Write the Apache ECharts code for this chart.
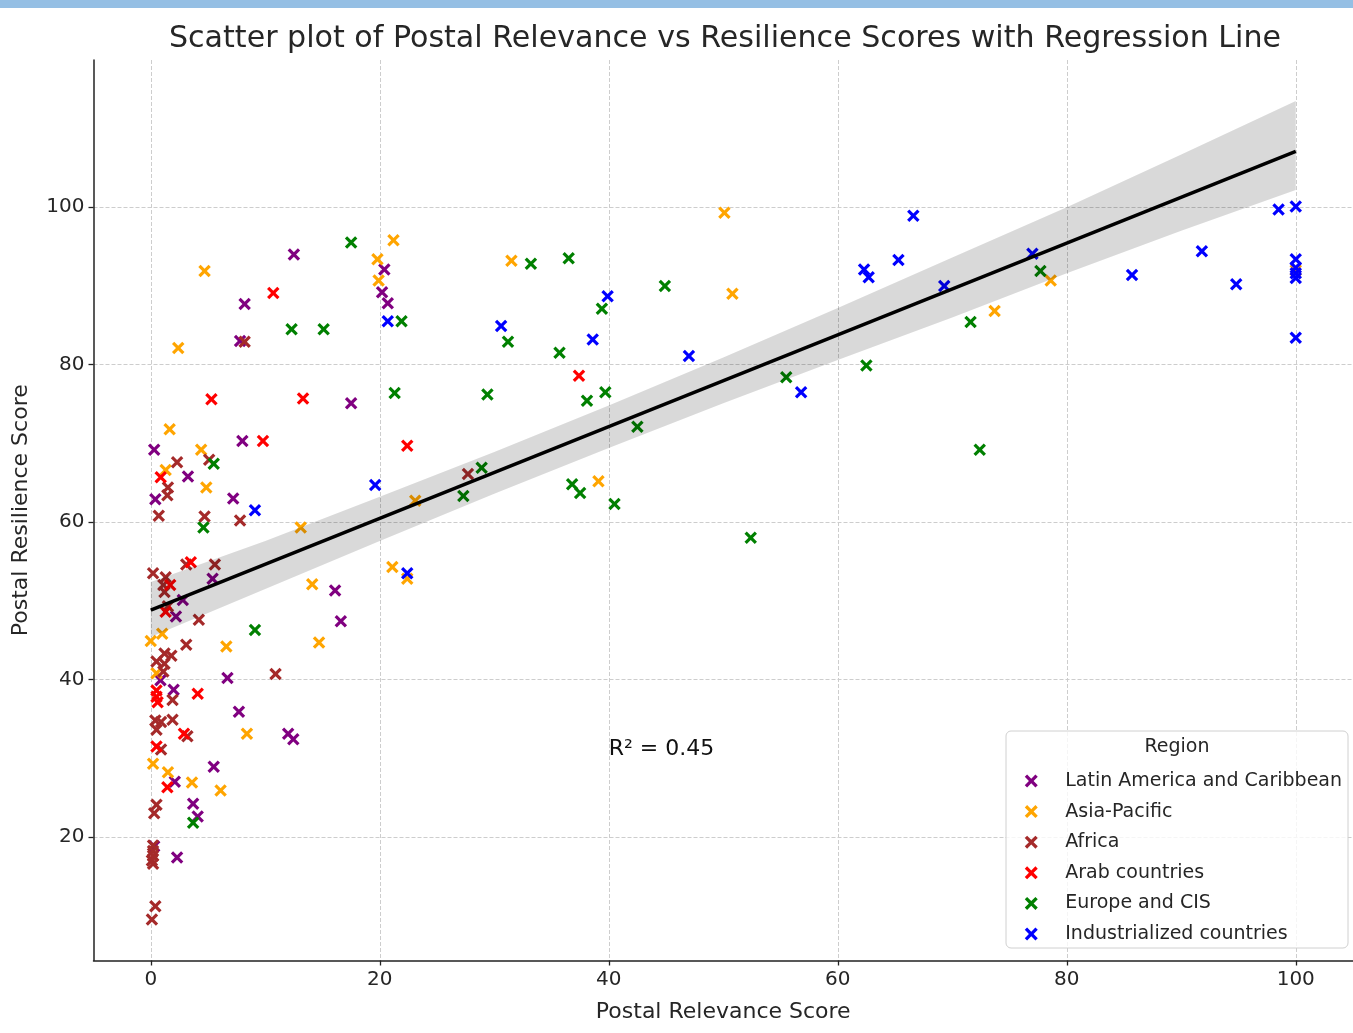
<!DOCTYPE html>
<html>
<head>
<meta charset="utf-8">
<script src="https://cdn.jsdelivr.net/npm/echarts@6/dist/echarts.min.js"></script>
<style>
  html, body { margin: 0; padding: 0; background: #ffffff; }
  #topbar { position: absolute; left: 0; top: 0; width: 1353px; height: 8px; background: #95bfe4; }
  #chart { position: absolute; left: 0; top: 0; width: 1353px; height: 1033px; }
</style>
</head>
<body>
<div id="chart"></div>
<div id="topbar"></div>
<script>
// Postal relevance (x) vs postal resilience (y) per country, grouped by region
const latinAmerica = [
  [12.5, 94.0], [20.4, 92.1], [20.2, 89.2], [20.7, 87.8], [8.2, 87.7], [7.8, 83.0],
  [17.5, 75.1], [0.3, 69.2], [8.0, 70.3], [3.25, 65.8], [0.4, 62.9], [7.2, 63.0],
  [5.4, 52.8], [2.8, 50.1], [2.2, 48.0], [16.1, 51.3], [16.6, 47.4], [6.7, 40.2],
  [0.85, 39.9], [2.0, 38.7], [7.7, 35.9], [12.0, 33.1], [12.45, 32.4], [5.5, 28.9],
  [2.1, 27.0], [3.7, 24.2], [4.1, 22.6], [0.3, 18.8], [2.3, 17.4]
];
const asiaPacific = [
  [4.7, 91.9], [21.2, 95.8], [19.8, 93.4], [19.9, 90.7], [2.4, 82.1], [31.5, 93.2],
  [50.1, 99.3], [50.8, 89.0], [73.7, 86.8], [78.6, 90.7], [100, 92.0], [39.1, 65.2],
  [23.1, 62.7], [13.1, 59.3], [1.65, 71.8], [4.4, 69.2], [1.3, 66.6], [4.85, 64.4],
  [14.1, 52.1], [14.7, 44.7], [21.1, 54.3], [22.4, 52.8], [1.0, 45.8], [0.0, 44.9],
  [6.6, 44.2], [0.5, 40.8], [8.4, 33.1], [0.2, 29.3], [1.5, 28.2], [3.6, 26.9], [6.1, 25.9]
];
const africa = [
  [8.2, 82.9], [2.3, 67.6], [5.1, 67.9], [1.5, 64.4], [1.45, 63.4], [0.7, 60.8],
  [4.7, 60.7], [7.8, 60.2], [3.1, 54.6], [5.6, 54.6], [0.2, 53.5], [1.3, 53.0],
  [1.1, 52.0], [1.2, 51.1], [1.5, 49.3], [4.2, 47.6], [3.1, 44.4], [27.7, 66.1],
  [10.9, 40.7], [1.2, 43.3], [1.8, 43.0], [0.5, 42.3], [1.2, 42.0], [1.1, 41.0],
  [1.9, 37.4], [0.4, 34.8], [0.9, 34.6], [1.9, 34.9], [0.5, 33.6], [3.2, 32.8],
  [0.9, 31.1], [0.5, 24.1], [0.3, 23.0], [0.2, 18.9], [0.2, 18.2], [0.2, 17.6],
  [0.1, 17.0], [0.2, 16.6], [0.4, 11.2], [0.1, 9.5]
];
const arabCountries = [
  [10.7, 89.1], [5.3, 75.6], [13.3, 75.7], [9.8, 70.3], [22.4, 69.7], [37.4, 78.6],
  [0.87, 65.7], [3.5, 54.9], [1.7, 52.0], [1.3, 48.6], [4.1, 38.2], [0.5, 38.6],
  [0.5, 37.8], [0.6, 37.1], [2.9, 33.1], [0.5, 31.5], [1.45, 26.3]
];
const europeCIS = [
  [17.5, 95.5], [12.3, 84.5], [15.1, 84.5], [21.9, 85.5], [21.3, 76.4], [33.2, 92.8],
  [36.5, 93.5], [44.9, 90.0], [39.4, 87.1], [31.2, 82.9], [35.7, 81.5], [38.1, 75.4],
  [39.7, 76.5], [29.4, 76.2], [42.5, 72.1], [28.9, 66.9], [36.8, 64.8], [37.5, 63.7],
  [40.5, 62.3], [27.3, 63.3], [77.7, 91.9], [71.6, 85.4], [62.5, 79.9], [55.5, 78.4],
  [72.4, 69.2], [52.4, 58.0], [5.5, 67.4], [4.6, 59.3], [9.1, 46.3], [3.7, 21.8]
];
const industrialized = [
  [20.7, 85.5], [39.9, 88.7], [30.6, 84.9], [38.6, 83.2], [47.0, 81.1], [19.6, 64.7],
  [22.4, 53.5], [9.1, 61.5], [66.6, 98.9], [65.3, 93.3], [62.3, 92.1], [62.7, 91.1],
  [69.3, 90.0], [77.0, 94.1], [56.8, 76.5], [85.7, 91.4], [91.8, 94.4], [94.8, 90.2],
  [98.5, 99.7], [100, 100.1], [100, 93.4], [100, 92.3], [100, 91.6], [100, 91.0], [100, 83.4]
];

// Fitted regression line and its confidence band
const regressionX = [0, 100];
const regressionY = [48.8, 107.1];
const bandX = [0, 10, 20, 30, 40, 50, 60, 70, 80, 90, 100];
const bandUpper = [52.4, 57.6, 63.2, 68.9, 74.8, 80.9, 87.2, 93.6, 100.0, 106.7, 113.5];
const bandLower = [45.4, 51.5, 57.6, 63.6, 69.4, 75.1, 80.6, 86.0, 91.6, 97.0, 102.2];
const rSquared = 0.45;
const rSquaredAt = [40, 30];

const xTicks = [0, 20, 40, 60, 80, 100];
const yTicks = [20, 40, 60, 80, 100];

const regions = [
  { name: 'Latin America and Caribbean', color: '#800080', data: latinAmerica },
  { name: 'Asia-Pacific', color: '#FFA500', data: asiaPacific },
  { name: 'Africa', color: '#A52A2A', data: africa },
  { name: 'Arab countries', color: '#FF0000', data: arabCountries },
  { name: 'Europe and CIS', color: '#008000', data: europeCIS },
  { name: 'Industrialized countries', color: '#0000FF', data: industrialized }
];

const FONT = '"DejaVu Sans", "Liberation Sans", sans-serif';
const TEXT = '#262626';
// "x" marker outline
const crossMarker = 'path://M0,1.8L1.8,0L5,3.2L8.2,0L10,1.8L6.8,5L10,8.2L8.2,10L5,6.8L1.8,10L0,8.2L3.2,5Z';

const chart = echarts.init(document.getElementById('chart'), null, { renderer: 'canvas' });

const gridLine = { show: true, lineStyle: { color: '#cdcdcd', width: 1, type: [4, 2] } };

const scatterSeries = regions.map(r => ({
  name: r.name,
  type: 'scatter',
  data: r.data,
  symbol: crossMarker,
  symbolSize: 12.5,
  symbolKeepAspect: true,
  itemStyle: { color: r.color, opacity: 1 },
  z: 2,
  silent: true
}));

const option = {
  animation: false,
  backgroundColor: '#ffffff',
  textStyle: { fontFamily: FONT },
  title: {
    text: 'Scatter plot of Postal Relevance vs Resilience Scores with Regression Line',
    left: 720, top: 19, textAlign: 'center',
    textStyle: { fontFamily: FONT, fontSize: 30.1, fontWeight: 'normal', color: TEXT }
  },
  grid: { left: 93.5, right: -4.5, top: 60, bottom: 72.5, containLabel: false },
  xAxis: {
    type: 'value', min: -5, max: 105,
    name: 'Postal Relevance Score', nameLocation: 'middle', nameGap: 41,
    nameTextStyle: { fontFamily: FONT, fontSize: 22, color: TEXT },
    axisLine: { show: true, onZero: false, lineStyle: { color: '#222', width: 1.5 } },
    axisTick: { show: true, length: 5, inside: false, customValues: xTicks, lineStyle: { color: '#222', width: 1.3 } },
    axisLabel: { show: true, customValues: xTicks, margin: 9, fontFamily: FONT, fontSize: 20, color: TEXT },
    splitLine: gridLine
  },
  yAxis: {
    type: 'value', min: 4.3, max: 118.7,
    name: 'Postal Resilience Score', nameLocation: 'middle', nameGap: 61, nameRotate: 90,
    nameTextStyle: { fontFamily: FONT, fontSize: 22, color: TEXT },
    axisLine: { show: true, onZero: false, lineStyle: { color: '#222', width: 1.5 } },
    axisTick: { show: true, length: 5, inside: false, customValues: yTicks, lineStyle: { color: '#222', width: 1.3 } },
    axisLabel: { show: true, customValues: yTicks, margin: 9, fontFamily: FONT, fontSize: 20, color: TEXT },
    splitLine: gridLine
  },
  legend: {
    data: regions.map(r => r.name),
    orient: 'vertical',
    right: 11, top: 770.5, padding: 0,
    icon: crossMarker,
    itemWidth: 58, itemHeight: 13, itemGap: 9.6,
    selectedMode: false,
    textStyle: { fontFamily: FONT, fontSize: 19, color: TEXT, lineHeight: 21 },
    z: 6
  },
  graphic: [
    {
      id: 'legendFrame', type: 'rect', z: 5, silent: true,
      shape: { x: 1006, y: 731, width: 342, height: 217, r: 5 },
      style: { fill: 'rgba(255,255,255,0.8)', stroke: '#d0d0d0', lineWidth: 1 }
    },
    {
      id: 'legendTitle', type: 'text', z: 6, silent: true,
      x: 1177, y: 747,
      style: { text: 'Region', fontFamily: FONT, fontSize: 19, fill: TEXT, align: 'center', verticalAlign: 'middle' }
    }
  ],
  series: scatterSeries.concat([
    {
      name: 'Confidence band',
      type: 'custom',
      data: [[bandX[0], bandLower[0]]],
      silent: true,
      z: 3,
      renderItem: function (params, api) {
        const pts = [];
        for (let i = 0; i < bandX.length; i++) pts.push(api.coord([bandX[i], bandUpper[i]]));
        for (let i = bandX.length - 1; i >= 0; i--) pts.push(api.coord([bandX[i], bandLower[i]]));
        return { type: 'polygon', shape: { points: pts }, style: { fill: 'rgba(0,0,0,0.15)' } };
      }
    },
    {
      name: 'Regression line',
      type: 'line',
      data: regressionX.map((x, i) => [x, regressionY[i]]),
      showSymbol: false,
      silent: true,
      lineStyle: { color: '#000000', width: 3.5 },
      z: 4
    }
  ])
};
chart.setOption(option);

// R² annotation anchored at its data point (text sits on the baseline there)
const anchor = chart.convertToPixel({ gridIndex: 0 }, rSquaredAt);
chart.setOption({
  graphic: [
    {
      id: 'rSquaredNote', type: 'text', z: 6, silent: true,
      x: anchor[0], y: anchor[1] - 9,
      style: {
        text: 'R² = ' + rSquared.toFixed(2),
        fontFamily: FONT, fontSize: 22, fill: '#111',
        align: 'left', verticalAlign: 'middle'
      }
    }
  ]
});
</script>
</body>
</html>
